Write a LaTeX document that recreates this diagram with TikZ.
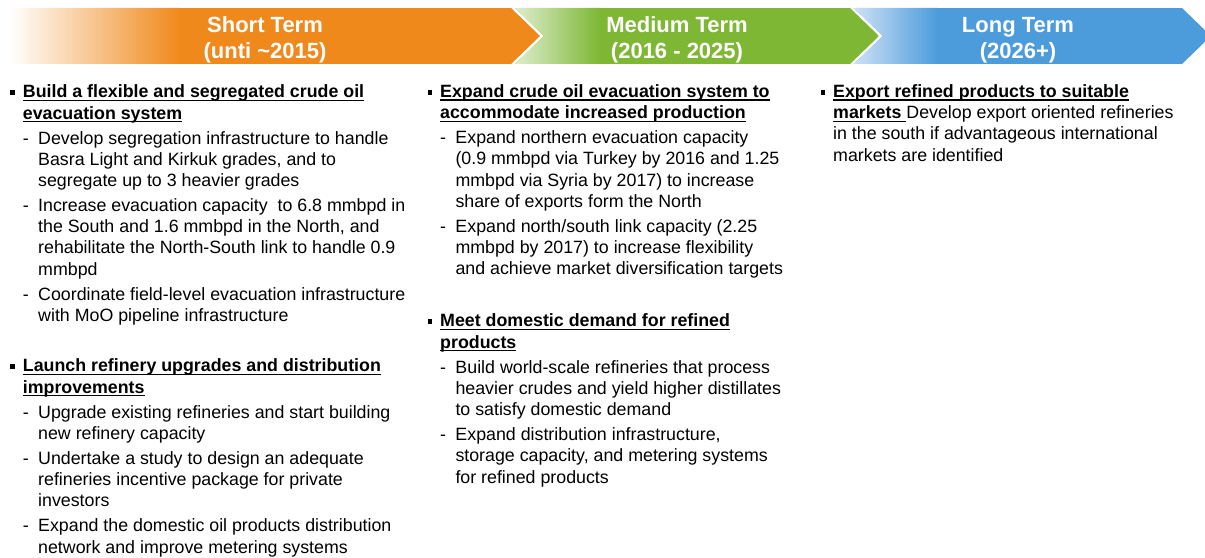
\documentclass[tikz,border=0pt]{standalone}
\usepackage{fontspec}
\setmainfont{Liberation Sans}
\usepackage{array}
\usepackage{tikz}
\definecolor{shortorange}{RGB}{240,137,28}
\definecolor{mediumgreen}{RGB}{126,183,52}
\definecolor{mediumpale}{RGB}{222,237,206}
\definecolor{longblue}{RGB}{76,155,219}
\definecolor{longpale}{RGB}{205,225,245}
\newcommand{\undhead}[1]{\setbox0\hbox{\bfseries #1}\rlap{\rule[-3.3bp]{\wd0}{1.3bp}}\box0}
\newcommand{\sqbullet}{\rule[2.8bp]{4.8bp}{4.8bp}}
\newcommand{\headrow}[1]{\multicolumn{2}{@{}l@{}}{\undhead{#1}}}

\begin{document}
\begin{tikzpicture}[x=1bp,y=-1bp]
  \tikzset{termlabel/.style={anchor=base,inner sep=0pt,text=white,font=\fontsize{22bp}{26.5bp}\selectfont\bfseries}}
  \tikzset{itemblock/.style={anchor=base west,inner sep=0pt,font=\fontsize{17.8bp}{21.2bp}\selectfont}}
  \useasboundingbox (0,0) rectangle (1205,558);
  % header arrows
  \begin{scope}
    \clip (10,8) -- (511,8) -- (540,36) -- (511,64) -- (10,64) -- cycle;
    \fill[shortorange] (10,8) rectangle (540,64);
    \shade[left color=white,right color=shortorange] (10,8) rectangle (180,64);
  \end{scope}
  \begin{scope}
    \clip (515,8) -- (850,8) -- (879,36) -- (850,64) -- (515,64) -- (544,36) -- cycle;
    \fill[mediumgreen] (515,8) rectangle (879,64);
    \shade[left color=mediumpale,right color=mediumgreen] (515,8) rectangle (600,64);
  \end{scope}
  \begin{scope}
    \clip (0,0) rectangle (1205,558);
    \clip (854,8) -- (1182,8) -- (1211,36) -- (1182,64) -- (854,64) -- (883,36) -- cycle;
    \fill[longblue] (854,8) rectangle (1211,64);
    \shade[left color=longpale,right color=longblue] (854,8) rectangle (938,64);
  \end{scope}
  \node[termlabel] (shortlbl) at (265,32.5) {\begin{tabular}[t]{@{}c@{}}Short Term\\(unti \textasciitilde2015)\end{tabular}};
  \node[termlabel] (mediumlbl) at (677,32.5) {\begin{tabular}[t]{@{}c@{}}Medium Term\\(2016 - 2025)\end{tabular}};
  \node[termlabel] (longlbl) at (1018,32.5) {\begin{tabular}[t]{@{}c@{}}Long Term\\(2026+)\end{tabular}};
  % short term
  \node[itemblock] (short1) at (10,98) {\begin{tabular}[t]{@{}p{12.7bp}@{}p{15.3bp}@{}l@{}}
    \sqbullet & \headrow{Build a flexible and segregated crude oil}\\
    & \headrow{evacuation system}\\[3.8bp]
    & - & Develop segregation infrastructure to handle\\
    & & Basra Light and Kirkuk grades, and to\\
    & & segregate up to 3 heavier grades\\[3.8bp]
    & - & Increase evacuation capacity\ \ to 6.8 mmbpd in\\
    & & the South and 1.6 mmbpd in the North, and\\
    & & rehabilitate the North-South link to handle 0.9\\
    & & mmbpd\\[3.8bp]
    & - & Coordinate field-level evacuation infrastructure\\
    & & with MoO pipeline infrastructure
  \end{tabular}};
  \node[itemblock] (short2) at (10,372) {\begin{tabular}[t]{@{}p{12.7bp}@{}p{15.3bp}@{}l@{}}
    \sqbullet & \headrow{Launch refinery upgrades and distribution}\\
    & \headrow{improvements}\\[3.8bp]
    & - & Upgrade existing refineries and start building\\
    & & new refinery capacity\\[3.8bp]
    & - & Undertake a study to design an adequate\\
    & & refineries incentive package for private\\
    & & investors\\[3.8bp]
    & - & Expand the domestic oil products distribution\\
    & & network and improve metering systems
  \end{tabular}};
  % medium term
  \node[itemblock] (medium1) at (427.3,97.5) {\begin{tabular}[t]{@{}p{12.7bp}@{}p{15.3bp}@{}l@{}}
    \sqbullet & \headrow{Expand crude oil evacuation system to}\\
    & \headrow{accommodate increased production}\\[3.8bp]
    & - & Expand northern evacuation capacity\\
    & & (0.9 mmbpd via Turkey by 2016 and 1.25\\
    & & mmbpd via Syria by 2017) to increase\\
    & & share of exports form the North\\[3.8bp]
    & - & Expand north/south link capacity (2.25\\
    & & mmbpd by 2017) to increase flexibility\\
    & & and achieve market diversification targets
  \end{tabular}};
  \node[itemblock] (medium2) at (427.3,327) {\begin{tabular}[t]{@{}p{12.7bp}@{}p{15.3bp}@{}l@{}}
    \sqbullet & \headrow{Meet domestic demand for refined}\\
    & \headrow{products}\\[3.8bp]
    & - & Build world-scale refineries that process\\
    & & heavier crudes and yield higher distillates\\
    & & to satisfy domestic demand\\[3.8bp]
    & - & Expand distribution infrastructure,\\
    & & storage capacity, and metering systems\\
    & & for refined products
  \end{tabular}};
  % long term
  \node[itemblock] (long1) at (820.3,97.5) {\begin{tabular}[t]{@{}p{12.7bp}@{}l@{}}
    \sqbullet & \undhead{Export refined products to suitable}\\
    & \undhead{markets\ }Develop export oriented refineries\\
    & in the south if advantageous international\\
    & markets are identified
  \end{tabular}};
\end{tikzpicture}
\end{document}
